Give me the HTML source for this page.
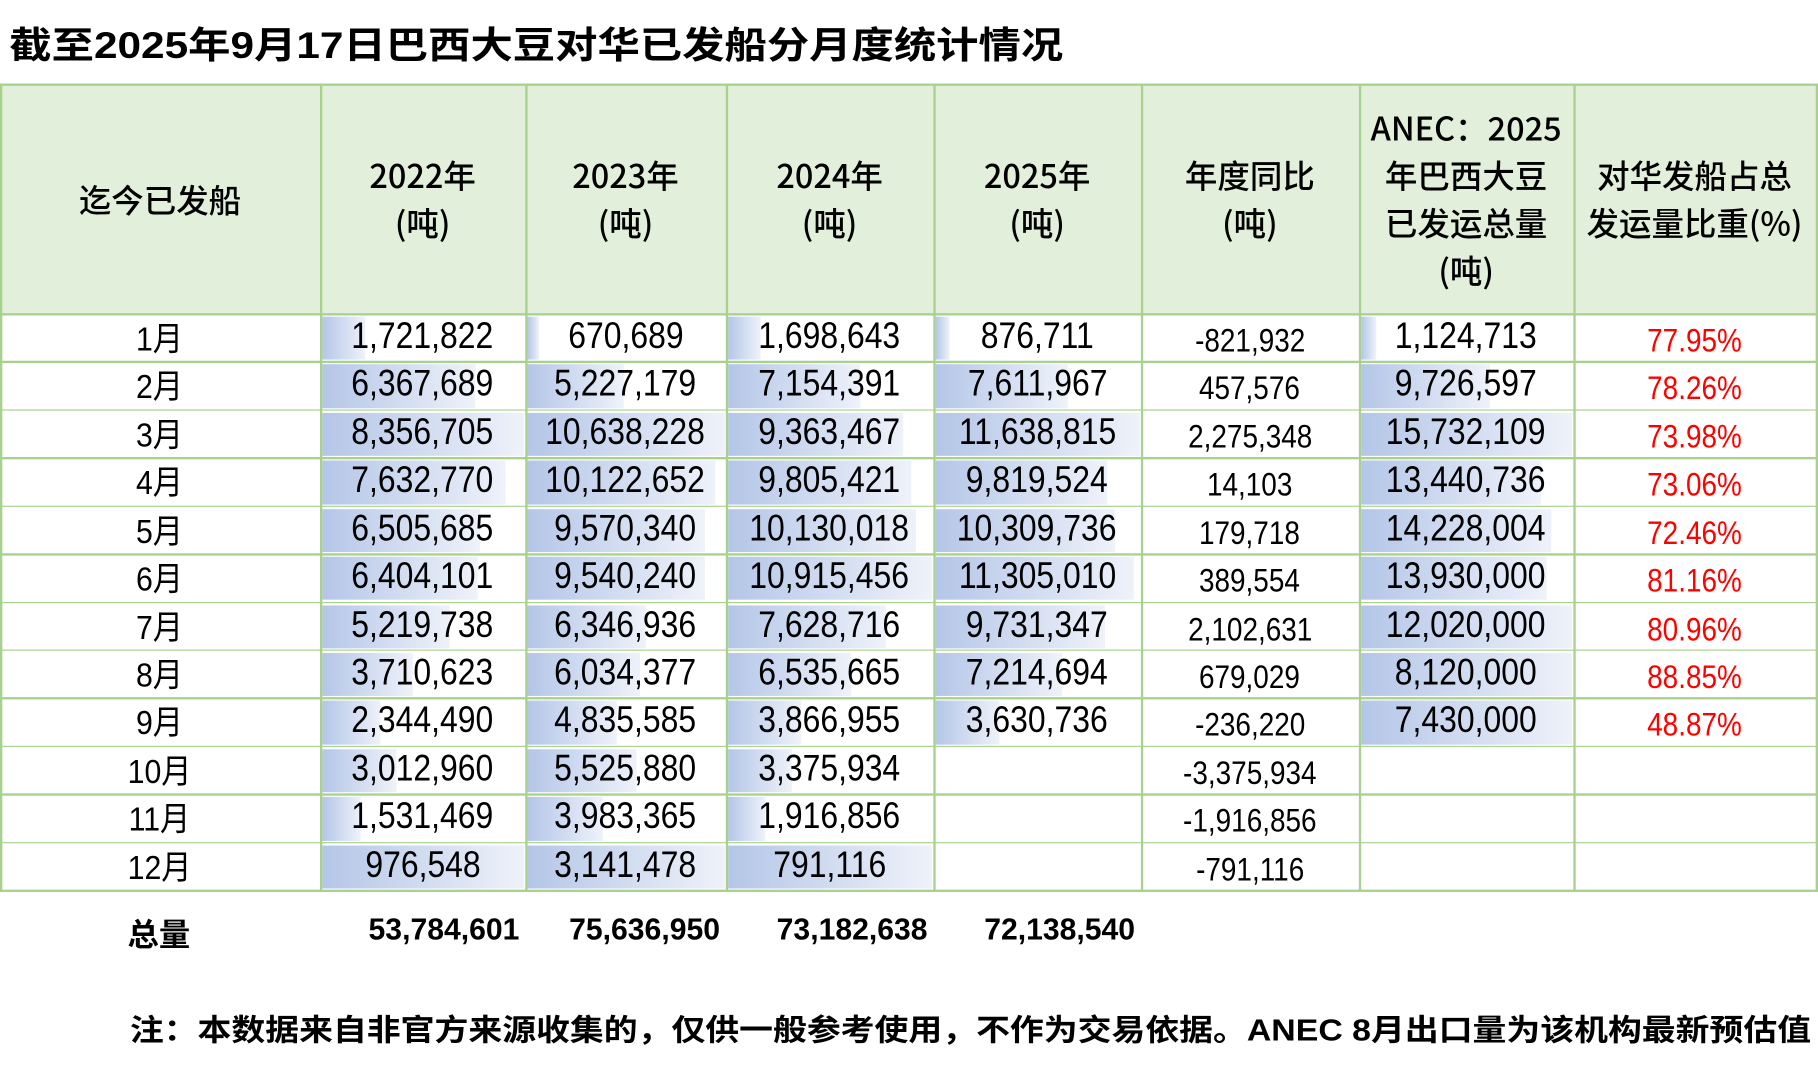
<!DOCTYPE html>
<html><head><meta charset="utf-8">
<style>
html,body{margin:0;padding:0;background:#fff;width:1818px;height:1088px;overflow:hidden}
#wrap{position:absolute;left:0;top:0;width:1568px;height:938px;transform-origin:0 0;transform:scale(1.15944,1.15991);font-family:"Liberation Sans","Noto Sans CJK SC",sans-serif;color:#000}
.abs{position:absolute;white-space:nowrap}
.cell{position:absolute;box-sizing:border-box;overflow:hidden}
.num{font-family:"Liberation Sans","Noto Sans CJK SC",sans-serif;font-size:32px;position:absolute;left:0;right:0;text-align:center}
.num span{display:inline-block;transform:scaleX(0.86);transform-origin:50% 50%}
.hdr{font-size:28px;font-weight:500;text-align:center;position:absolute;left:0;right:0;line-height:41px;font-family:"Noto Sans CJK SC","Liberation Sans",sans-serif}
.bar{position:absolute;left:2px;top:2px;bottom:2px;background:linear-gradient(to right,#b4c6e7,#eef2fa)}
</style></head><body>
<div id="wrap">
<div class="abs" id="title" style="left:8px;top:14px;font-size:32px;font-weight:bold;font-family:'Liberation Sans','Noto Sans CJK SC',sans-serif">截至2025年9月17日巴西大豆对华已发船分月度统计情况</div>
<div id="table"></div>
<div id="totals"></div>
<div class="abs" id="note" style="left:112px;top:868px;font-size:26px;font-weight:bold;font-family:'Liberation Sans','Noto Sans CJK SC',sans-serif">注：本数据来自非官方来源收集的，仅供一般参考使用，不作为交易依据。ANEC 8月出口量为该机构最新预估值</div>
</div>
<script>
const months=["1月","2月","3月","4月","5月","6月","7月","8月","9月","10月","11月","12月"];
const headers=["迄今已发船","2022年\n(吨)","2023年\n(吨)","2024年\n(吨)","2025年\n(吨)","年度同比\n(吨)","ANEC：2025\n年巴西大豆\n已发运总量\n(吨)","对华发船占总\n发运量比重(%)"];
const v2022=[1721822,6367689,8356705,7632770,6505685,6404101,5219738,3710623,2344490,3012960,1531469,976548];
const v2023=[670689,5227179,10638228,10122652,9570340,9540240,6346936,6034377,4835585,5525880,3983365,3141478];
const v2024=[1698643,7154391,9363467,9805421,10130018,10915456,7628716,6535665,3866955,3375934,1916856,791116];
const v2025=[876711,7611967,11638815,9819524,10309736,11305010,9731347,7214694,3630736,null,null,null];
const yoy=[-821932,457576,2275348,14103,179718,389554,2102631,679029,-236220,-3375934,-1916856,-791116];
const anec=[1124713,9726597,15732109,13440736,14228004,13930000,12020000,8120000,7430000,null,null,null];
const share=[77.95,78.26,73.98,73.06,72.46,81.16,80.96,88.85,48.87,null,null,null];
// data-bar fill ratios as displayed in the source spreadsheet
const bar2022=[.21,.76,1,.91,.78,.77,.63,.45,.29,.37,.19,1];
const bar2023=[.06,.49,1,.95,.9,.9,.6,.57,.45,.55,.38,1];
const bar2024=[.16,.65,.86,.9,.92,1,.77,.6,.36,.31,.18,1];
const bar2025=[.07,.65,1,.84,.88,.97,.83,.62,.31,null,null,null];
const barAnec=[.07,.61,1,.85,.9,.88,1,1,1,null,null,null];
const totals=[53784601,75636950,73182638,72138540];

const colX=[0,276,453,626,805,984,1172,1357,1566];
const headTop=73,headBot=271,rowH=(768-271)/12;
const fmt=n=>n.toLocaleString('en-US');
const tbl=document.getElementById('table');
const slugs=['month-header','y2022-header','y2023-header','y2024-header','y2025-header','yoy-header','anec-header','share-header'];
const colSlug=['month','y2022','y2023','y2024','y2025','yoy','anec','share'];
function lineStyle(el){el.style.background='#a9d18e';}
headers.forEach((h,i)=>{
  const c=document.createElement('div');c.className='cell';
  
  
  c.style.cssText+=`left:${colX[i]}px;top:${headTop}px;width:${colX[i+1]-colX[i]}px;height:${headBot-headTop}px;background:#e2efda`;
  const lines=h.split('\n');
  const t=document.createElement('div');t.className='hdr';
  t.style.top=((headBot-headTop)/2-lines.length*41/2)+'px';
  t.innerHTML=lines.join('<br>');
  c.appendChild(t);tbl.appendChild(c);
});
const cols=[null,[v2022,bar2022],[v2023,bar2023],[v2024,bar2024],[v2025,bar2025],[yoy,null],[anec,barAnec],[share,null]];
months.forEach((m,r)=>{
  const top=headBot+r*rowH;
  for(let i=0;i<8;i++){
    const c=document.createElement('div');c.className='cell';
    
    
    c.style.cssText+=`left:${colX[i]}px;top:${top}px;width:${colX[i+1]-colX[i]}px;height:${rowH}px`;
    let txt='',off=0,color='#000',fs=32;
    if(i===0){txt=m;fs=29;off=4;}
    else{
      const [vals,bars]=cols[i];const v=vals[r];
      if(v!==null){
        if(bars&&bars[r]!==null){
          const b=document.createElement('div');b.className='bar';
          
          
          b.style.width=((colX[i+1]-colX[i]-3)*bars[r])+'px';
          c.appendChild(b);
        }
        if(i===7){txt=v.toFixed(2)+'%';color='#ff0000';fs=28;off=4;}
        else{txt=fmt(v);if(i===5){fs=28;off=4;}}
      }
    }
    if(txt){
      const t=document.createElement('div');t.className='num';
      t.style.top=(off-1)+'px';t.style.fontSize=fs+'px';t.style.lineHeight=(rowH-2)+'px';t.style.color=color;
      const s=document.createElement('span');s.textContent=txt;
      if(i===0)s.style.transform='scaleX(0.9)';
      t.appendChild(s);c.appendChild(t);
    }
    tbl.appendChild(c);
  }
});
for(let r=0;r<=13;r++){
  const y=r===0?headTop:headBot+(r-1)*rowH;
  const l=document.createElement('div');l.className='cell';
  
  
  l.style.cssText+=`left:0;top:${y-1}px;width:1568px;height:1.5px`;lineStyle(l);tbl.appendChild(l);
}
colX.forEach(x=>{
  const l=document.createElement('div');l.className='cell';
  
  
  l.style.cssText+=`left:${x}px;top:${headTop}px;width:1.5px;height:${768-headTop}px`;lineStyle(l);tbl.appendChild(l);
});
const tot=document.getElementById('totals');
const tl=document.createElement('div');tl.className='abs';


tl.style.cssText='left:110px;top:784px;font-size:27px;font-weight:bold';tl.textContent='总量';tot.appendChild(tl);
const totRight=[448,621,800,979];
totals.forEach((v,i)=>{
  const t=document.createElement('div');t.className='abs';
  
  
  t.style.cssText=`right:${1568-totRight[i]}px;top:786px;font-size:26px;font-weight:bold`;
  t.textContent=fmt(v);tot.appendChild(t);
});
function fit(id,w){const e=document.getElementById(id);const cw=e.getBoundingClientRect().width/1.15944;e.style.transformOrigin='0 0';e.style.transform=`scaleX(${w/cw})`;}
fit('title',909);fit('note',1450);
</script>
</body></html>
